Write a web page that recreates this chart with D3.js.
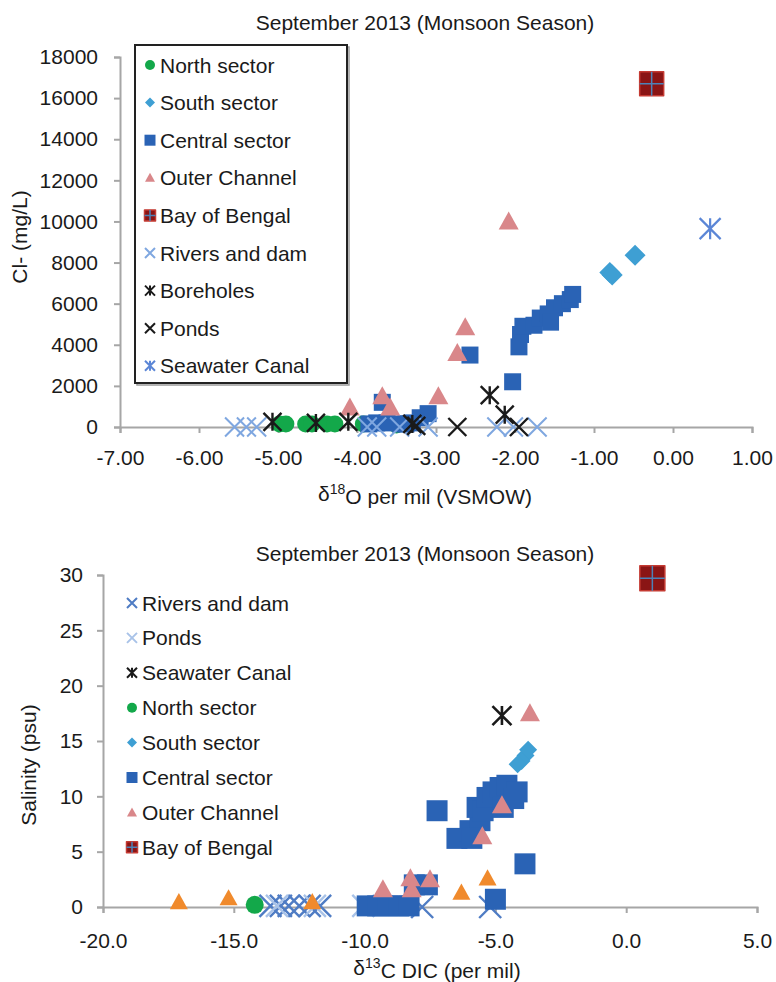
<!DOCTYPE html>
<html>
<head>
<meta charset="utf-8">
<script src="https://cdn.jsdelivr.net/npm/d3@7"></script>
<style>
  body { margin: 0; background: #fff; }
  text { font-family: "Liberation Sans", Arial, sans-serif; fill: #1a1a1a; }
</style>
</head>
<body>
<script>
// ---- top chart: Cl- vs d18O ----
var topXTicks = [-7, -6, -5, -4, -3, -2, -1, 0, 1]
var topYTicks = [0, 2000, 4000, 6000, 8000, 10000, 12000, 14000, 16000, 18000]

var topNorth = [[-4.98, 150], [-4.9, 150], [-4.65, 150], [-4.57, 150], [-4.38, 150], [-4.28, 150], [-3.92, 150], [-3.5, 100]]
var topSouth = [[-0.48, 8350], [-0.8, 7520], [-0.77, 7400]]
var topCentral = [[-2.03, 2200], [-1.95, 3900], [-1.93, 4500], [-1.9, 4900], [-1.76, 4950], [-1.68, 5300],
  [-1.58, 5500], [-1.5, 5800], [-1.4, 6000], [-1.3, 6200], [-1.27, 6450], [-1.55, 5100], [-2.57, 3500],
  [-3.68, 1200], [-3.75, 200], [-3.85, 150], [-3.62, 200], [-3.45, 150], [-3.38, 150], [-3.2, 450],
  [-3.1, 650], [-3.3, 200]]
var topOuter = [[-2.08, 10000], [-2.63, 4850], [-2.73, 3600], [-2.97, 1500], [-3.68, 1500], [-3.58, 950], [-4.09, 950]]
var topBay = [[-0.27, 16700]]
var topRivers = [[-5.55, 0], [-5.4, 0], [-5.27, 0], [-3.87, 0], [-3.75, 0], [-3.46, 0], [-3.1, 0], [-2.23, 0], [-2.02, 0], [-1.72, 0]]
var topBoreholes = [[-5.07, 250], [-4.52, 200], [-4.11, 250], [-3.3, 150], [-2.32, 1550], [-2.13, 600]]
var topPonds = [[-3.25, 50], [-2.73, 0], [-1.95, 0]]
var topSeawater = [[0.47, 9650]]

// ---- bottom chart: salinity vs d13C DIC ----
var botXTicks = [-20, -15, -10, -5, 0, 5]
var botYTicks = [0, 5, 10, 15, 20, 25, 30]

var botRivers = [[-13.6, 0.1], [-13.2, 0.1], [-12.9, 0.1], [-12.5, 0.1], [-12.1, 0.1], [-11.7, 0.1], [-7.8, 0], [-5.2, 0]]
var botPonds = [[-13.35, 0.1], [-11.9, 0.1], [-10.05, 0.1]]
var botSeawater = [[-4.75, 17.3]]
var botNorth = [[-14.2, 0.2], [-9.7, 0.1], [-9.4, 0.1]]
var botSouth = [[-3.75, 14.2], [-3.85, 13.7], [-4.0, 13.2], [-4.15, 12.9], [-4.4, 11.0]]
var botCentral = [[-7.23, 8.7], [-6.47, 6.2], [-5.97, 6.9], [-5.59, 7.8], [-5.7, 9.0], [-5.47, 8.7],
  [-5.32, 9.9], [-5.09, 10.4], [-4.82, 10.8], [-4.56, 11.0], [-4.17, 10.4], [-4.7, 9.0], [-4.3, 9.8],
  [-5.9, 6.2], [-3.87, 3.9], [-5.0, 0.7], [-7.6, 2.0], [-8.1, 2.0], [-9.9, 0.1], [-9.5, 0.1],
  [-9.1, 0.1], [-8.7, 0.1], [-8.3, 0.1]]
var botOuter = [[-3.68, 17.5], [-4.75, 9.2], [-5.5, 6.4], [-7.5, 2.5], [-8.25, 2.6], [-8.2, 1.6], [-9.3, 1.6]]
var botOrange = [[-17.1, 0.45], [-15.2, 0.8], [-12.0, 0.45], [-6.3, 1.3], [-5.3, 2.6]]
var botBay = [[1.0, 29.7]]

var title = "September 2013 (Monsoon Season)"

var green = "#13a84a", aqua = "#3e9fd3", blue = "#2a63b5", pink = "#d9878a"
var lightBlue = "#7fa7e0", midBlue = "#4f7cc4", paleBlue = "#a9c3e8", orange = "#f08a2c"

var svg = d3.select("body").append("svg")
  .attr("width", 776)
  .attr("height", 982)

// marker shapes, drawn around 0,0
function shapePath(type, s) {
  var h = s / 2
  if (type == "circle") {
    return d3.symbol().type(d3.symbolCircle).size(Math.PI * h * h)()
  }
  if (type == "square" || type == "bay") {
    return "M" + (-h) + "," + (-h) + "H" + h + "V" + h + "H" + (-h) + "Z"
  }
  if (type == "diamond") {
    return "M0," + (-h) + "L" + h + ",0L0," + h + "L" + (-h) + ",0Z"
  }
  if (type == "triangle") {
    return "M0," + (-h * 1.0) + "L" + h + "," + (h * 0.8) + "L" + (-h) + "," + (h * 0.8) + "Z"
  }
  if (type == "x") {
    return "M" + (-h) + "," + (-h) + "L" + h + "," + h + "M" + h + "," + (-h) + "L" + (-h) + "," + h
  }
  if (type == "star") {
    return "M" + (-h) + "," + (-h) + "L" + h + "," + h + "M" + h + "," + (-h) + "L" + (-h) + "," + h +
      "M0," + (-h) + "V" + h
  }
}

function drawSeries(g, pts, xs, ys, type, size, color, sw) {
  var grp = g.append("g")
  var marks = grp.selectAll("path.m").data(pts).join("path")
    .attr("class", "m")
    .attr("d", shapePath(type, size))
    .attr("transform", function(d) { return "translate(" + xs(d[0]) + "," + ys(d[1]) + ")" })
  if (type == "x" || type == "star") {
    marks.attr("fill", "none").attr("stroke", color).attr("stroke-width", sw || 2)
  } else if (type == "bay") {
    marks.attr("fill", "#8a1515").attr("stroke", "#c43a32").attr("stroke-width", 1.5)
      .attr("stroke-linejoin", "round")
    // blue cross inside the Bay of Bengal square
    grp.selectAll("path.c").data(pts).join("path")
      .attr("class", "c")
      .attr("d", "M" + (-size / 2) + ",0H" + (size / 2) + "M0," + (-size / 2) + "V" + (size / 2))
      .attr("transform", function(d) { return "translate(" + xs(d[0]) + "," + ys(d[1]) + ")" })
      .attr("stroke", "#4d82b8")
      .attr("stroke-width", 1.5)
  } else {
    marks.attr("fill", color)
  }
}

function drawAxes(g, xs, ys, xTicks, yTicks, xFmt, xPad, yPad) {
  var xAxis = g.append("g")
    .attr("transform", "translate(0," + ys.range()[0] + ")")
    .call(d3.axisBottom(xs).tickValues(xTicks).tickSizeOuter(0).tickSize(6).tickPadding(xPad)
      .tickFormat(function(d) { return d.toFixed(xFmt) }))
  var yAxis = g.append("g")
    .attr("transform", "translate(" + xs.range()[0] + ",0)")
    .call(d3.axisLeft(ys).tickValues(yTicks).tickSizeOuter(0).tickSize(6).tickPadding(yPad)
      .tickFormat(function(d) { return String(d) }))
  ;[xAxis, yAxis].forEach(function(a) {
    a.select(".domain").attr("stroke", "#a6a6a6").attr("stroke-width", 2)
    a.selectAll(".tick line").attr("stroke", "#a6a6a6").attr("stroke-width", 2)
    a.selectAll(".tick text")
      .style("font-family", "'Liberation Sans', Arial, sans-serif")
      .style("font-size", "21px")
      .attr("fill", "#1a1a1a")
  })
}

function legendEntry(g, x, y, type, size, color, label, sw) {
  drawSeries(g, [[0, 0]], function() { return x }, function() { return y }, type, size, color, sw)
  g.append("text")
    .attr("x", x + 10)
    .attr("y", y)
    .attr("dy", "0.36em")
    .style("font-size", "21px")
    .text(label)
}

// ================= TOP CHART =================
var tx = d3.scaleLinear().domain([-7, 1]).range([120, 752])
var ty = d3.scaleLinear().domain([0, 18000]).range([427, 57])
var topG = svg.append("g")

drawAxes(topG, tx, ty, topXTicks, topYTicks, 2, 17, 16)

drawSeries(topG, topNorth, tx, ty, "circle", 17, green)
drawSeries(topG, topSouth, tx, ty, "diamond", 21, aqua)
drawSeries(topG, topCentral, tx, ty, "square", 17, blue)
drawSeries(topG, topOuter, tx, ty, "triangle", 20, pink)
drawSeries(topG, topBay, tx, ty, "bay", 24, "#8a1515")
drawSeries(topG, topRivers, tx, ty, "x", 19, lightBlue, 2)
drawSeries(topG, topBoreholes, tx, ty, "star", 18, "#1a1a1a", 2.4)
drawSeries(topG, topPonds, tx, ty, "x", 18, "#1a1a1a", 2.4)
drawSeries(topG, topSeawater, tx, ty, "star", 21, "#5b86d6", 2.2)

topG.append("text")
  .attr("x", 425).attr("y", 22).attr("dy", "0.36em")
  .attr("text-anchor", "middle")
  .style("font-size", "21px")
  .text(title)

var tXT = topG.append("text")
  .attr("x", 425).attr("y", 493).attr("dy", "0.36em")
  .attr("text-anchor", "middle")
  .style("font-size", "21px")
tXT.append("tspan").text("δ")
tXT.append("tspan").attr("dy", "-0.45em").style("font-size", "14px").text("18")
tXT.append("tspan").attr("dy", "0.45em").text("O per mil (VSMOW)")

topG.append("text")
  .attr("transform", "translate(19,237) rotate(-90)")
  .attr("dy", "0.36em")
  .attr("text-anchor", "middle")
  .style("font-size", "21px")
  .text("Cl- (mg/L)")

// legend box
topG.append("rect")
  .attr("x", 137).attr("y", 47).attr("width", 212).attr("height", 338)
  .attr("fill", "none").attr("stroke", "#9a9a9a").attr("stroke-width", 1.5)
topG.append("rect")
  .attr("x", 135).attr("y", 45).attr("width", 212).attr("height", 338)
  .attr("fill", "#fff").attr("stroke", "#222").attr("stroke-width", 2)

var topLegend = [
  ["circle", 10, green, "North sector"],
  ["diamond", 10, aqua, "South sector"],
  ["square", 11, blue, "Central sector"],
  ["triangle", 10, pink, "Outer Channel"],
  ["bay", 11, "#8a1515", "Bay of Bengal"],
  ["x", 10, lightBlue, "Rivers and dam"],
  ["star", 10, "#1a1a1a", "Boreholes"],
  ["x", 10, "#1a1a1a", "Ponds"],
  ["star", 10, "#5b86d6", "Seawater Canal"]
]
topLegend.forEach(function(e, i) {
  legendEntry(topG, 150, 65 + i * 37.6, e[0], e[1], e[2], e[3], 2)
})

// ================= BOTTOM CHART =================
var bx = d3.scaleLinear().domain([-20, 5]).range([103, 757])
var by = d3.scaleLinear().domain([0, 30]).range([907, 575])
var botG = svg.append("g")

drawAxes(botG, bx, by, botXTicks, botYTicks, 1, 20, 14)

drawSeries(botG, botRivers, bx, by, "x", 22, midBlue, 2.4)
drawSeries(botG, botPonds, bx, by, "x", 22, paleBlue, 2.4)
drawSeries(botG, botSeawater, bx, by, "star", 19, "#1a1a1a", 2.6)
drawSeries(botG, botNorth, bx, by, "circle", 18, green)
drawSeries(botG, botSouth, bx, by, "diamond", 18, aqua)
drawSeries(botG, botCentral, bx, by, "square", 21, blue)
drawSeries(botG, botOuter, bx, by, "triangle", 20, pink)
drawSeries(botG, botOrange, bx, by, "triangle", 18, orange)
drawSeries(botG, botBay, bx, by, "bay", 25, "#8a1515")

botG.append("text")
  .attr("x", 425).attr("y", 553).attr("dy", "0.36em")
  .attr("text-anchor", "middle")
  .style("font-size", "21px")
  .text(title)

var bXT = botG.append("text")
  .attr("x", 437).attr("y", 967).attr("dy", "0.36em")
  .attr("text-anchor", "middle")
  .style("font-size", "21px")
bXT.append("tspan").text("δ")
bXT.append("tspan").attr("dy", "-0.45em").style("font-size", "14px").text("13")
bXT.append("tspan").attr("dy", "0.45em").text("C DIC (per mil)")

botG.append("text")
  .attr("transform", "translate(28,765) rotate(-90)")
  .attr("dy", "0.36em")
  .attr("text-anchor", "middle")
  .style("font-size", "21px")
  .text("Salinity (psu)")

var botLegend = [
  ["x", 10, midBlue, "Rivers and dam"],
  ["x", 10, paleBlue, "Ponds"],
  ["star", 10, "#1a1a1a", "Seawater Canal"],
  ["circle", 10, green, "North sector"],
  ["diamond", 10, aqua, "South sector"],
  ["square", 11, blue, "Central sector"],
  ["triangle", 10, pink, "Outer Channel"],
  ["bay", 11, "#8a1515", "Bay of Bengal"]
]
botLegend.forEach(function(e, i) {
  legendEntry(botG, 132, 603 + i * 34.9, e[0], e[1], e[2], e[3], 2)
})
</script>
</body>
</html>
